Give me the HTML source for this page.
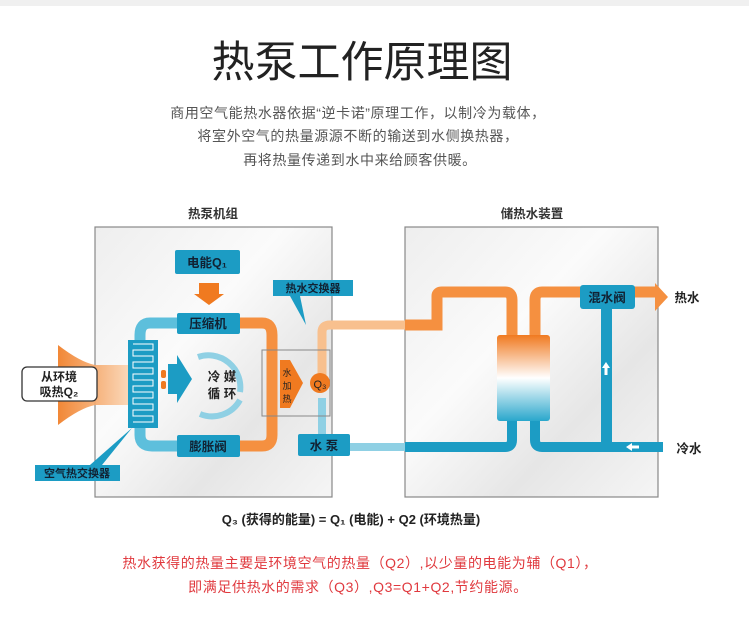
<!DOCTYPE html>
<html><head><meta charset="utf-8"><style>
html,body{margin:0;padding:0;background:#fff;}
svg{display:block;font-family:"Liberation Sans","Noto Sans CJK SC",sans-serif;}
</style></head><body>
<svg width="749" height="629" viewBox="0 0 749 629" xmlns="http://www.w3.org/2000/svg">
<defs>
<linearGradient id="bg" x1="0" y1="0" x2="1" y2="1">
<stop offset="0" stop-color="#eeeeee"/><stop offset="0.4" stop-color="#fbfbfb"/><stop offset="0.7" stop-color="#e6e6e6"/><stop offset="1" stop-color="#f5f5f5"/></linearGradient>
<linearGradient id="tank" x1="0" y1="0" x2="0" y2="1">
<stop offset="0" stop-color="#f07a20"/><stop offset="0.5" stop-color="#ffffff"/><stop offset="1" stop-color="#2aa7cc"/></linearGradient>
<linearGradient id="fun" x1="0" y1="0" x2="1" y2="0">
<stop offset="0" stop-color="#f07a20"/><stop offset="1" stop-color="#fbd6b5"/></linearGradient>
</defs>
<rect width="749" height="6" fill="#f0f0f0"/>
<text x="362" y="77" font-size="43" text-anchor="middle" fill="#222">热泵工作原理图</text>
<g font-size="14" fill="#555" text-anchor="middle" letter-spacing="0.6">
<text x="358" y="118">商用空气能热水器依据“逆卡诺”原理工作，以制冷为载体，</text>
<text x="358" y="141">将室外空气的热量源源不断的输送到水侧换热器，</text>
<text x="360" y="165">再将热量传递到水中来给顾客供暖。</text>
</g>
<g font-size="12.5" font-weight="bold" fill="#333" text-anchor="middle">
<text x="213" y="218">热泵机组</text><text x="532" y="218">储热水装置</text></g>
<rect x="95" y="227" width="237" height="270" fill="url(#bg)" stroke="#888" stroke-width="1.2"/>
<rect x="405" y="227" width="253" height="270" fill="url(#bg)" stroke="#888" stroke-width="1.2"/>
<path d="M58 345 Q80 362 95 365 L130 365 L130 405 L95 405 Q80 408 58 425 Z" fill="url(#fun)" opacity="0.9"/>
<rect x="22" y="367" width="75" height="34" rx="5" fill="#fff" stroke="#333" stroke-width="1.3"/>
<text x="59" y="381" font-size="12" text-anchor="middle" font-weight="bold" fill="#222">从环境</text>
<text x="59" y="396" font-size="12" text-anchor="middle" font-weight="bold" fill="#222">吸热Q₂</text>
<path d="M177 323 L150 323 Q140 323 140 335 L140 435 Q140 446 152 446 L177 446" fill="none" stroke="#5dbfdc" stroke-width="11"/>
<path d="M240 323 L262 323 Q272 323 272 335 L272 435 Q272 446 262 446 L240 446" fill="none" stroke="#f59040" stroke-width="11"/>
<rect x="128" y="340" width="30" height="88" fill="#1c9cc4"/>
<g stroke="#fff" stroke-width="1" fill="none">
<path d="M133 344 h20 v6 h-20 v6 h20 v6 h-20 v6 h20 v6 h-20 v6 h20 v6 h-20 v6 h20 v6 h-20 v6 h20 v6 h-20 v6 h20 v6 h-20"/></g>
<rect x="161" y="370" width="5" height="8" rx="2" fill="#f07a20"/><rect x="161" y="381" width="5" height="8" rx="2" fill="#f07a20"/>
<path d="M168 364 L177 364 L177 355 L192 379 L177 403 L177 394 L168 394 Z" fill="#1c9cc4"/>
<path d="M198 357 A32 32 0 0 1 240 392" fill="none" stroke="#8fd0e4" stroke-width="6"/>
<path d="M240 400 A32 32 0 0 1 200 414" fill="none" stroke="#8fd0e4" stroke-width="6"/>
<text x="222" y="381" font-size="12.5" text-anchor="middle" font-weight="bold" fill="#222">冷 媒</text>
<text x="222" y="398" font-size="12.5" text-anchor="middle" font-weight="bold" fill="#222">循 环</text>
<rect x="175" y="250" width="65" height="24" fill="#1c9cc4" rx="2"/>
<text x="207" y="267" font-size="12.5" text-anchor="middle" font-weight="bold" fill="#123">电能Q₁</text>
<path d="M199 283 h20 v11 h5 l-15 11 l-15 -11 h5 z" fill="#f07a20"/>
<rect x="177" y="313" width="63" height="21" fill="#1c9cc4" rx="2"/>
<text x="208" y="328" font-size="12.5" text-anchor="middle" font-weight="bold" fill="#123">压缩机</text>
<rect x="177" y="435" width="63" height="22" fill="#1c9cc4" rx="2"/>
<text x="208" y="451" font-size="12.5" text-anchor="middle" font-weight="bold" fill="#123">膨胀阀</text>
<path d="M322 398 L322 447 L405 447" fill="none" stroke="#8fd0e4" stroke-width="8"/>
<path d="M322 375 L322 332 Q322 325 330 325 L405 325" fill="none" stroke="#f8c08e" stroke-width="9"/>
<rect x="262" y="350" width="68" height="66" fill="none" stroke="#888" stroke-width="1"/>
<path d="M280 360 L290 360 L303 383 L290 408 L280 408 Z" fill="#f07a20"/>
<text x="287" y="376" font-size="9" text-anchor="middle" fill="#222">水</text>
<text x="287" y="389" font-size="9" text-anchor="middle" fill="#222">加</text>
<text x="287" y="402" font-size="9" text-anchor="middle" fill="#222">热</text>
<circle cx="320" cy="383" r="10" fill="#f07a20"/>
<text x="320" y="388" font-size="11" text-anchor="middle" fill="#222">Q₃</text>
<rect x="298" y="434" width="52" height="22" fill="#1c9cc4" rx="2"/>
<text x="324" y="450" font-size="12.5" text-anchor="middle" font-weight="bold" fill="#123">水 泵</text>
<rect x="273" y="280" width="80" height="16" fill="#1c9cc4"/>
<path d="M290 296 L300 296 L306 325 Z" fill="#1c9cc4"/>
<text x="313" y="292" font-size="11" text-anchor="middle" font-weight="bold" fill="#123">热水交换器</text>
<rect x="35" y="465" width="85" height="16" fill="#1c9cc4"/>
<path d="M90 465 L102 465 L132 428 Z" fill="#1c9cc4"/>
<text x="77" y="477" font-size="11" text-anchor="middle" font-weight="bold" fill="#123">空气热交换器</text>
<path d="M405 325 L437 325 L437 296 Q437 292 442 292 L505 292 Q512 292 512 300 L512 336" fill="none" stroke="#f59040" stroke-width="11"/>
<path d="M535 336 L535 300 Q535 292 542 292 L655 292" fill="none" stroke="#f59040" stroke-width="11"/>
<path d="M655 283 L668 297 L655 311 Z" fill="#f59040"/>
<path d="M405 447 L505 447 Q512 447 512 440 L512 420" fill="none" stroke="#1c9cc4" stroke-width="10"/>
<path d="M535 420 L535 440 Q535 447 542 447 L663 447" fill="none" stroke="#1c9cc4" stroke-width="10"/>
<rect x="497" y="335" width="53" height="86" rx="3" fill="url(#tank)"/>
<rect x="601" y="300" width="11" height="147" fill="#1c9cc4"/>
<path d="M606 362 l-4 6 h2.5 v7 h3 v-7 h2.5 z" fill="#fff"/>
<path d="M626 447 l6 -4 v2.5 h7 v3 h-7 v2.5 z" fill="#fff"/>
<rect x="580" y="285" width="55" height="24" rx="3" fill="#1c9cc4"/>
<text x="607" y="302" font-size="12.5" text-anchor="middle" font-weight="bold" fill="#123">混水阀</text>
<text x="687" y="302" font-size="12.5" text-anchor="middle" font-weight="bold" fill="#222">热水</text>
<text x="689" y="453" font-size="12.5" text-anchor="middle" font-weight="bold" fill="#222">冷水</text>
<text x="351" y="524" font-size="13" text-anchor="middle" font-weight="bold" fill="#222">Q₃ (获得的能量) = Q₁ (电能) + Q2 (环境热量)</text>
<g font-size="14" fill="#e0393e" text-anchor="middle" letter-spacing="0.6">
<text x="360" y="568">热水获得的热量主要是环境空气的热量（Q2）,以少量的电能为辅（Q1），</text>
<text x="358" y="592">即满足供热水的需求（Q3）,Q3=Q1+Q2,节约能源。</text>
</g>
</svg>
</body></html>
